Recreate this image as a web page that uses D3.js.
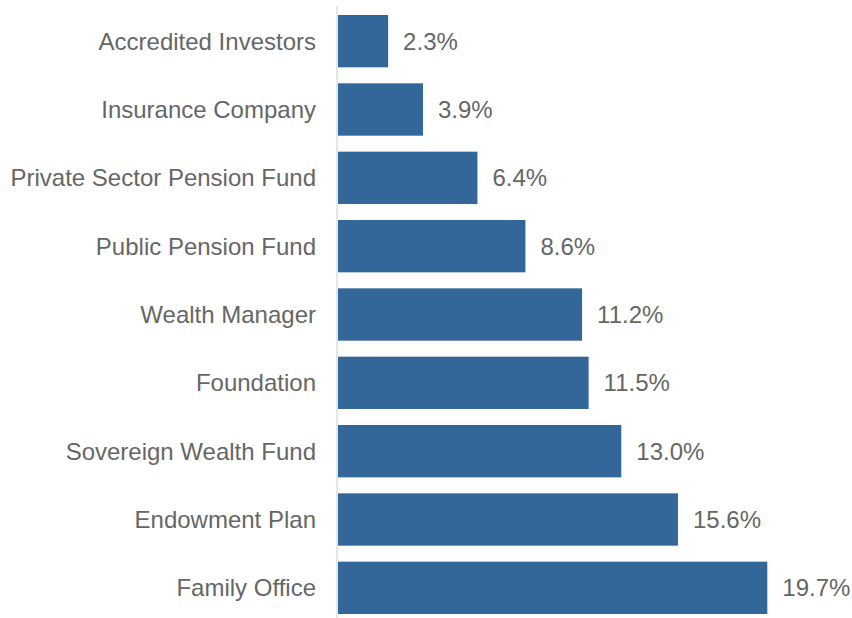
<!DOCTYPE html>
<html><head><meta charset="utf-8">
<script src="https://cdn.jsdelivr.net/npm/d3@7"></script>
<style>body{margin:0;background:#fff}svg{display:block}</style>
</head><body>
<script>
const categories = ["Accredited Investors","Insurance Company","Private Sector Pension Fund","Public Pension Fund","Wealth Manager","Foundation","Sovereign Wealth Fund","Endowment Plan","Family Office"];
const values = [2.3,3.9,6.4,8.6,11.2,11.5,13.0,15.6,19.7];

const W = 852, H = 618;
const svg = d3.select("body").append("svg").attr("width", W).attr("height", H);
const x0 = 338;
const x = d3.scaleLinear().domain([0, 19.7]).range([x0, 767.3]);
const y = d3.scaleBand().domain(categories).range([15, 614]).paddingInner(0.234).paddingOuter(0);

svg.append("line").attr("x1", 337).attr("x2", 337).attr("y1", 6).attr("y2", 618)
  .attr("stroke", "#d9d9d9").attr("stroke-width", 1.3);

svg.selectAll("rect.bar").data(values).join("rect").attr("class","bar")
  .attr("x", x0).attr("y", (d,i) => y(categories[i]))
  .attr("width", d => x(d) - x0).attr("height", y.bandwidth())
  .attr("fill", "#336699");

const font = "'Liberation Sans', Arial, sans-serif";
svg.selectAll("text.cat").data(categories).join("text").attr("class","cat")
  .attr("x", 316).attr("y", d => y(d) + y.bandwidth()/2)
  .attr("dy", "0.35em").attr("text-anchor", "end")
  .attr("font-family", font).attr("font-size", 24).attr("fill", "#666666")
  .text(d => d);

svg.selectAll("text.val").data(values).join("text").attr("class","val")
  .attr("x", d => x(d) + 15).attr("y", (d,i) => y(categories[i]) + y.bandwidth()/2)
  .attr("dy", "0.35em")
  .attr("font-family", font).attr("font-size", 24).attr("fill", "#666666")
  .text(d => d.toFixed(1) + "%");
</script>
</body></html>
